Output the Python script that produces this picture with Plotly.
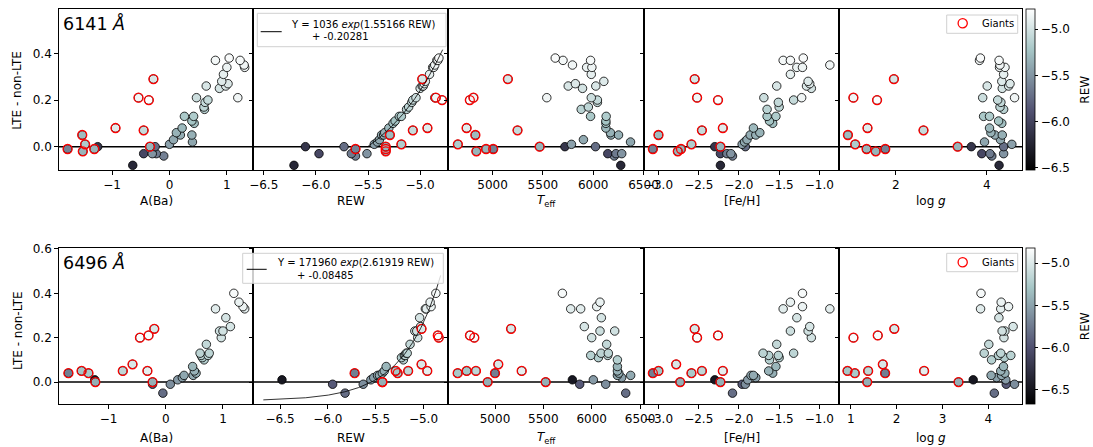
import numpy as np
import plotly.graph_objects as go

# ---------------- Ba II 6141 Å : one entry per star ----------------
kind_6141 = list("DDDDDDDDDDDDDDDDDDDDDDDDDDDDDDDDDDDD" "GGGGGGGGGGG")
dlte_6141 = [-0.08, -0.04, -0.03, -0.03, -0.03, 0.00, 0.00, 0.01, 0.02, 0.03,
             0.05, 0.05, 0.06, 0.08, 0.10, 0.11, 0.13, 0.13, 0.16, 0.17,
             0.19, 0.20, 0.21, 0.21, 0.25, 0.26, 0.26, 0.27, 0.28, 0.31,
             0.34, 0.34, 0.35, 0.37, 0.37, 0.38,
             -0.01, -0.01, -0.02, 0.00, 0.01, 0.05, 0.07, 0.08, 0.20, 0.21, 0.29]
ba_6141 = [-0.64, -0.10, -0.45, -0.23, -0.30, -1.25, -0.25, 0.00, 0.40, 0.07,
           0.19, 0.39, 0.12, 0.22, 0.43, 0.39, 0.26, 0.42, 0.61, 0.60,
           0.62, 0.67, 1.19, 0.47, 0.87, 0.64, 0.98, 1.02, 0.91, 0.94,
           1.00, 1.31, 1.30, 0.80, 1.23, 1.04,
           -1.775, -1.31, -1.51, -0.34, -1.47, -1.52, -0.45, -0.94, -0.36, -0.54, -0.28]
rew_6141 = [-6.21, -5.62, -5.97, -5.66, -5.51, -6.10, -5.73, -5.44, -5.41, -5.39,
            -5.37, -5.35, -5.34, -5.30, -5.26, -5.24, -5.20, -5.18, -5.13, -5.11,
            -5.08, -5.07, -4.86, -5.04, -5.00, -4.98, -4.97, -4.96, -4.95, -4.91,
            -4.88, -4.87, -4.86, -4.84, -4.83, -4.82,
            -5.62, -5.33, -5.33, -5.33, -5.18, -5.29, -5.07, -4.93, -4.79, -4.85, -4.98]
teff_6141 = [6274, 6210, 6145, 6226, 6284, 5719, 6023, 5784, 6371, 5903,
             6177, 6252, 6171, 6126, 6126, 6126, 5974, 6129, 5881, 5952,
             6042, 6042, 5539, 5981, 5894, 5752, 6026, 5823, 6106, 5981,
             5935, 5987, 5794, 5700, 5974, 5623,
             5006, 4935, 4839, 5468, 4655, 4829, 5248, 4742, 4774, 4810, 5152]
feh_6141 = [-2.23, -2.08, -2.23, -2.15, -2.10, -2.30, -1.92, -1.96, -1.93, -1.90,
            -1.86, -1.79, -1.74, -1.82, -1.58, -1.62, -1.65, -1.54, -1.65, -1.50,
            -1.51, -1.32, -1.22, -1.69, -1.10, -1.53, -1.16, -1.12, -1.14, -1.36,
            -1.28, -1.21, -0.87, -1.45, -1.36, -1.20,
            -3.07, -2.72, -2.76, -2.23, -2.59, -3.00, -2.46, -2.20, -2.26, -2.52, -2.55]
logg_6141 = [4.27, 4.11, 3.89, 4.07, 4.37, 3.66, 4.37, 4.55, 3.95, 4.30,
             4.18, 4.34, 4.09, 4.06, 4.33, 4.26, 3.93, 4.06, 4.37, 4.29,
             4.31, 4.24, 4.61, 3.91, 4.34, 4.01, 4.48, 4.51, 4.33, 4.37,
             4.28, 4.40, 4.29, 3.84, 4.27, 3.86,
             1.77, 1.36, 1.56, 3.36, 1.11, 0.95, 2.61, 1.38, 1.59, 1.07, 1.96]

# ---------------- Ba II 6496 Å ----------------
kind_6496 = list("DDDDDDDDDDDDDDDDDDDDDDDDDDDD" "GGGGGGGGGGG")
dlte_6496 = [-0.05, -0.01, -0.01, 0.01, 0.01, 0.02, 0.03, 0.03, 0.04, 0.05,
             0.07, 0.10, 0.11, 0.12, 0.12, 0.13, 0.13, 0.17, 0.20, 0.23,
             0.23, 0.25, 0.29, 0.33, 0.33, 0.34, 0.36, 0.40,
             0.00, 0.00, 0.04, 0.04, 0.05, 0.05, 0.05, 0.08, 0.20, 0.21, 0.24]
ba_6496 = [-0.05, -0.23, 0.08, -1.24, 0.21, 0.29, 0.32, 0.48, 0.53, 0.50,
           0.47, 0.67, 0.64, 0.62, 0.74, 0.60, 0.76, 0.71, 0.97, 0.94,
           1.00, 1.13, 1.05, 0.87, 1.38, 1.35, 1.28, 1.19,
           -1.23, -0.23, -1.70, -1.35, -1.47, -0.75, -0.32, -0.58, -0.45, -0.30, -0.20]
rew_6496 = [-5.82, -5.95, -5.63, -6.48, -5.55, -5.52, -5.48, -5.46, -5.43, -5.41,
            -5.39, -5.21, -5.23, -5.20, -5.19, -5.18, -5.17, -5.14, -5.06, -5.09,
            -5.07, -5.03, -5.04, -4.98, -4.97, -4.92, -4.93, -4.87,
            -5.43, -5.43, -5.72, -5.27, -5.29, -5.16, -4.96, -5.02, -4.84, -4.85, -5.02]
teff_6496 = [6352, 5876, 6145, 5800, 6017, 6310, 6266, 6403, 6280, 6266,
             6266, 6266, 6069, 5990, 6166, 6097, 6172, 6155, 6000, 6086,
             6238, 5924, 6100, 5783, 5886, 6052, 6086, 5697,
             4924, 5524, 5000, 4614, 4707, 4803, 5276, 5034, 4786, 4741, 5166]
feh_6496 = [-2.08, -1.96, -1.92, -2.30, -1.89, -1.79, -1.85, -1.82, -1.58, -1.63,
            -1.54, -1.62, -1.50, -1.63, -1.51, -1.70, -1.32, -1.53, -1.10, -1.36,
            -1.14, -1.12, -1.28, -1.45, -0.87, -1.21, -1.36, -1.21,
            -2.73, -2.23, -3.07, -2.59, -3.00, -2.46, -2.20, -2.78, -2.52, -2.26, -2.55]
logg_6496 = [4.13, 4.39, 4.57, 3.67, 4.38, 4.18, 4.06, 4.29, 4.36, 4.27,
             4.33, 4.07, 4.35, 4.22, 4.49, 3.91, 4.27, 4.01, 4.34, 4.36,
             4.30, 4.54, 4.23, 3.83, 4.27, 4.44, 4.28, 3.84,
             1.36, 3.35, 1.75, 1.09, 0.93, 1.38, 2.60, 1.70, 1.06, 1.59, 1.95]

# exponential fits of the offset against REW:  a * exp(b * REW) + c
fit_6141 = [1036, 1.55166, -0.20281]
fit_6496 = [171960, 2.61919, -0.08485]

# REW colour limits of each line
rew_lim_6141 = [-6.526, -4.784]
rew_lim_6496 = [-6.675, -4.820]

lines = [
    dict(name="6141", kind=kind_6141, dlte=dlte_6141, ba=ba_6141, rew=rew_6141,
         teff=teff_6141, feh=feh_6141, logg=logg_6141, fit=fit_6141, lim=rew_lim_6141,
         fit_positive_only=True),
    dict(name="6496", kind=kind_6496, dlte=dlte_6496, ba=ba_6496, rew=rew_6496,
         teff=teff_6496, feh=feh_6496, logg=logg_6496, fit=fit_6496, lim=rew_lim_6496,
         fit_positive_only=False),
]
for ln in lines:
    n = len(ln["kind"])
    for k in ("dlte", "ba", "rew", "teff", "feh", "logg"):
        assert len(ln[k]) == n, (ln["name"], k)

panel_vars = ["ba", "rew", "teff", "feh", "logg"]
x_titles = ["A(Ba)", "REW", "<i>T</i><sub>eff</sub>", "[Fe/H]", "log <i>g</i>"]

# ---------------- layout geometry (pixels) ----------------
W, H = 1093, 447
FONT = "DejaVu Sans"
BONE = [[0.0, "rgb(0,0,0)"], [0.365079, "rgb(81,81,113)"],
        [0.746032, "rgb(166,198,198)"], [1.0, "rgb(255,255,255)"]]


def fx(px):
    return px / W


def fy(px):
    return 1 - px / H


def note(text, x, y, size=12, xanchor="center", yanchor="middle", **kw):
    return dict(text=text, x=fx(x), y=fy(y), xref="paper", yref="paper",
                xanchor=xanchor, yanchor=yanchor, showarrow=False,
                font=dict(family=FONT, size=size, color="black"), **kw)


col_edges = [58.7, 253.3, 448.3, 644.0, 839.0, 1022.3]
row_edges = [(9.3, 170.0), (248.3, 404.0)]

x_ranges = [
    [[-1.93, 1.46], [-6.60, -4.73], [4560, 6505], [-3.18, -0.756], [0.754, 4.78]],
    [[-1.87, 1.53], [-6.78, -4.74], [4517, 6541], [-3.18, -0.756], [0.745, 4.74]],
]
x_ticks = [
    [[-1, 0, 1], [-6.5, -6.0, -5.5, -5.0], [5000, 5500, 6000, 6500],
     [-3.0, -2.5, -2.0, -1.5, -1.0], [2, 4]],
    [[-1, 0, 1], [-6.5, -6.0, -5.5, -5.0], [5000, 5500, 6000, 6500],
     [-3.0, -2.5, -2.0, -1.5, -1.0], [1, 2, 3, 4]],
]
x_fmt = ["d", ".1f", "d", ".1f", "d"]
y_ranges = [[-0.1, 0.589], [-0.099, 0.603]]
y_ticks = [[0.0, 0.2, 0.4], [0.0, 0.2, 0.4, 0.6]]

axis_common = dict(showline=True, linecolor="black", linewidth=1, mirror=True,
                   ticks="outside", ticklen=3.5, tickwidth=0.8, tickcolor="black",
                   showgrid=False, zeroline=False, automargin=False,
                   tickfont=dict(family=FONT, size=12, color="black"))

fig = go.Figure()
layout = {}
shapes = []
annotations = []

for r, ln in enumerate(lines):
    top, bot = row_edges[r]
    dlte = np.array(ln["dlte"])
    rew = np.array(ln["rew"])
    giant = np.array([k == "G" for k in ln["kind"]])
    cmin, cmax = ln["lim"]
    for c, var in enumerate(panel_vars):
        n = r * 5 + c + 1
        xa = "x" if n == 1 else f"x{n}"
        ya = "y" if n == 1 else f"y{n}"
        xkey = "xaxis" if n == 1 else f"xaxis{n}"
        ykey = "yaxis" if n == 1 else f"yaxis{n}"
        layout[xkey] = dict(axis_common, domain=[fx(col_edges[c]), fx(col_edges[c + 1])],
                            range=x_ranges[r][c], tickvals=x_ticks[r][c],
                            tickformat=x_fmt[c], anchor=ya)
        layout[ykey] = dict(axis_common, domain=[fy(bot), fy(top)], range=y_ranges[r],
                            tickvals=y_ticks[r], tickformat=".1f", anchor=xa,
                            showticklabels=(c == 0))

        # zero-offset reference line
        shapes.append(dict(type="line", xref=f"{xa} domain", yref=ya, x0=0, x1=1, y0=0, y1=0,
                           line=dict(color="black", width=1.5), layer="below"))

        xv = np.array(ln[var])
        marker = dict(color=rew, colorscale=BONE, cmin=cmin, cmax=cmax, size=8.5,
                      line=dict(color="black", width=0.8))
        if c == 4:
            marker.update(showscale=True, colorbar=dict(
                x=fx(1026), xanchor="left", xpad=0, ypad=0,
                thickness=9, thicknessmode="pixels",
                len=(bot - top) / H, lenmode="fraction", y=fy((top + bot) / 2), yanchor="middle",
                outlinecolor="black", outlinewidth=0.8, ticks="outside", ticklen=3.5,
                tickwidth=0.8, tickcolor="black", tickvals=[-6.5, -6.0, -5.5, -5.0],
                tickformat=".1f", tickfont=dict(family=FONT, size=12, color="black")))
        fig.add_trace(go.Scatter(x=xv, y=dlte, mode="markers", marker=marker,
                                 xaxis=xa, yaxis=ya, showlegend=False))
        fig.add_trace(go.Scatter(x=xv[giant], y=dlte[giant], mode="markers",
                                 marker=dict(symbol="circle-open", color="red", size=9,
                                             line=dict(width=1.3)),
                                 xaxis=xa, yaxis=ya, showlegend=False))
        if var == "rew":
            a, b, k = ln["fit"]
            # 6141 fit is drawn only where it gives a positive offset
            x_start = np.log(-k / a) / b if ln["fit_positive_only"] else cmin
            xs = np.linspace(x_start, cmax, 300)
            fig.add_trace(go.Scatter(x=xs, y=a * np.exp(b * xs) + k, mode="lines",
                                     line=dict(color="black", width=0.8),
                                     xaxis=xa, yaxis=ya, showlegend=False))

        # x-axis title
        annotations.append(note(x_titles[c], (col_edges[c] + col_edges[c + 1]) / 2,
                                200.5 if r == 0 else 437.5))

    # y-axis title
    annotations.append(note("LTE - non-LTE", 17.3, 90.5 if r == 0 else 330.8, textangle=-90))
    # colour bar title
    annotations.append(note("REW", 1085, (top + bot) / 2, textangle=-90))
    # line label
    annotations.append(note(f"{ln['name']} <i>Å</i>", 61, 23.7 if r == 0 else 262.7,
                            size=17.5, xanchor="left"))

# ---------------- fit legends ----------------
fit_boxes = [
    dict(box=(257.3, 13.3, 446.0, 46.7), sample=(260.7, 281.7, 31.7),
         t1=(289.3, 24.3), t2=(310.0, 36.7)),
    dict(box=(242.7, 253.3, 443.3, 283.3), sample=(246.7, 266.7, 269.3),
         t1=(275.0, 262.3), t2=(295.0, 275.0)),
]
for ln, fb in zip(lines, fit_boxes):
    a, b, k = ln["fit"]
    x0, y0, x1, y1 = fb["box"]
    shapes.append(dict(type="rect", xref="paper", yref="paper", x0=fx(x0), x1=fx(x1),
                       y0=fy(y1), y1=fy(y0), line=dict(color="#d0d0d0", width=1),
                       fillcolor="rgba(255,255,255,0.8)", layer="above"))
    sx0, sx1, sy = fb["sample"]
    shapes.append(dict(type="line", xref="paper", yref="paper", x0=fx(sx0), x1=fx(sx1),
                       y0=fy(sy), y1=fy(sy), line=dict(color="black", width=1), layer="above"))
    annotations.append(note(f"Y = {a} <i>exp</i>({b} REW)", fb["t1"][0], fb["t1"][1],
                            size=10, xanchor="left"))
    annotations.append(note(f"+ {k}", fb["t2"][0], fb["t2"][1], size=10, xanchor="left"))

# ---------------- giants legends ----------------
for y0, y1, yc in [(15.0, 33.3, 23.3), (253.3, 271.7, 262.3)]:
    shapes.append(dict(type="rect", xref="paper", yref="paper", x0=fx(946.7), x1=fx(1017.7),
                       y0=fy(y1), y1=fy(y0), line=dict(color="#d0d0d0", width=1),
                       fillcolor="rgba(255,255,255,0.8)", layer="above"))
    shapes.append(dict(type="circle", xref="paper", yref="paper", x0=fx(962.7 - 4.6), x1=fx(962.7 + 4.6),
                       y0=fy(yc + 4.6), y1=fy(yc - 4.6), line=dict(color="red", width=1.3),
                       layer="above"))
    annotations.append(note("Giants", 980, yc, size=10, xanchor="left"))

fig.update_layout(width=W, height=H, autosize=False, margin=dict(l=0, r=0, t=0, b=0, autoexpand=False),
                  paper_bgcolor="white", plot_bgcolor="white", showlegend=False,
                  font=dict(family=FONT, size=12, color="black"),
                  shapes=shapes, annotations=annotations, **layout)

fig.write_html("out.html")
